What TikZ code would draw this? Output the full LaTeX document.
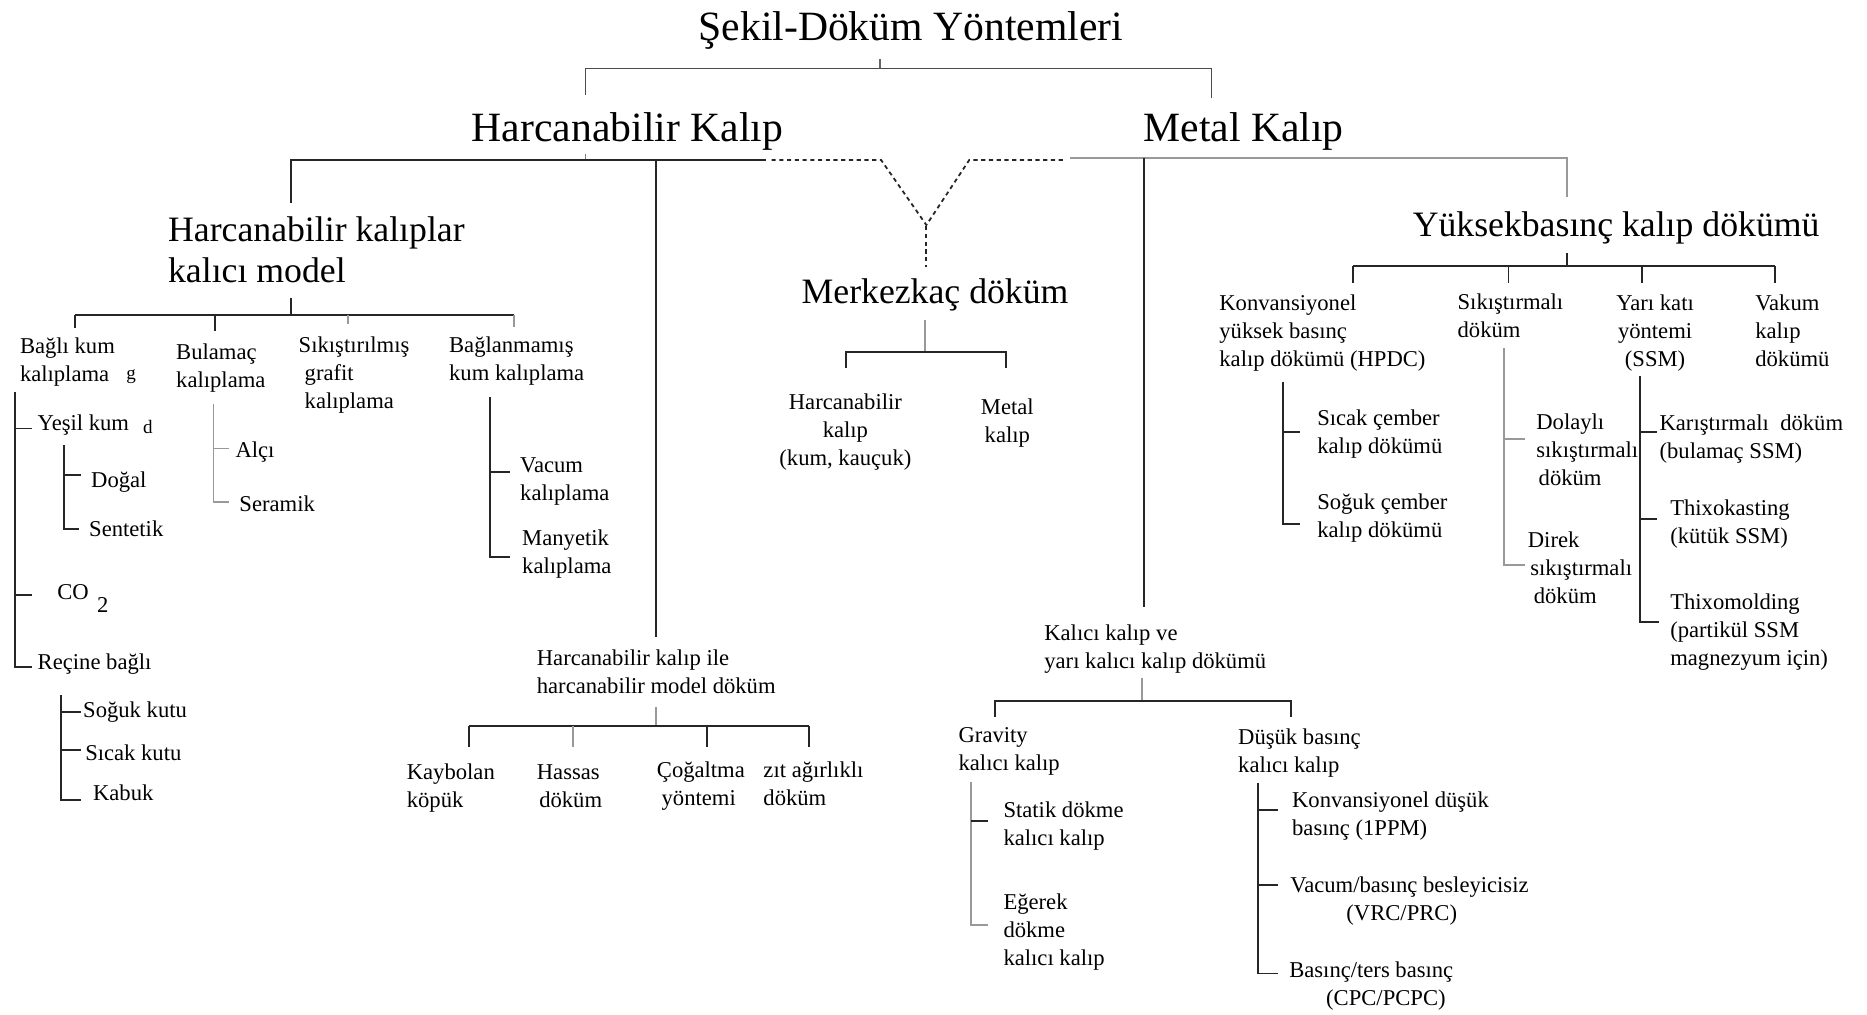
\documentclass[tikz,border=0pt]{standalone}
\usepackage{fontspec}
\setmainfont{Liberation Serif}
\newcommand\smf{\fontsize{19}{23.5}\selectfont}
\newcommand\tinyf{\fontsize{16}{19}\selectfont}
\newcommand\midf{\fontsize{30}{34}\selectfont}
\newcommand\bigf{\fontsize{35}{42}\selectfont}
\newcommand\tstr{\rule{0pt}{0.95em}}
\tikzset{
  ln/.style={line width=1.5pt, draw=black!85},
  gl/.style={line width=1.5pt, draw=black!40},
  dl/.style={line width=1.5pt, draw=black!85, dash pattern=on 3.5pt off 3pt},
  sm/.style={font=\smf, align=left, anchor=north west, inner sep=0pt},
  smc/.style={font=\smf, align=center, anchor=north, inner sep=0pt},
  big/.style={font=\bigf, anchor=base, inner sep=0pt},
  mid/.style={font=\midf, inner sep=0pt},
  tl/.style={font=\tinyf, anchor=base west, inner sep=0pt},
}
\begin{document}
\begin{tikzpicture}[x=1pt,y=-1pt]
\useasboundingbox (0,0) rectangle (1568,852);

% ---------- top level ----------
\node[big] (title) at (765,34) {Şekil-Döküm Yöntemleri};
\node[big] (harc) at (527,119) {Harcanabilir Kalıp};
\node[big] (metal) at (1044.5,119) {Metal Kalıp};

\draw[line width=1pt, draw=black!60] (739,49.8) -- (739,57.4);
\draw[line width=1.2pt, draw=black!70] (491.6,80) -- (491.6,57.4) -- (1017.4,57.4) -- (1017.4,82);

% level 2 bus
\draw[line width=0.8pt, draw=black!50] (491.3,129) -- (491.3,134.4);
\draw[ln] (244.4,170.8) -- (244.4,134.4) -- (643,134.4);
\draw[dl] (648,134.4) -- (740,134.4) -- (778,189) -- (814,134.4) -- (895,134.4);
\draw[dl] (778,190) -- (778,224);
\draw[gl] (899,133) -- (1316,133) -- (1316,165.2);
\draw[ln] (550.7,134.4) -- (550.7,534.7);
\draw[ln] (960.8,133) -- (960.8,509.5);

% ---------- Harcanabilir kalıplar kalıcı model ----------
\node[mid, align=left, anchor=north west] (hkalici) at (141,174.5) {\tstr Harcanabilir kalıplar\\kalıcı model};
\draw[ln] (244.4,250.6) -- (244.4,264.6);
\draw[ln] (63.1,264.6) -- (431.9,264.6);
\draw[ln] (63.1,264.6) -- (63.1,275.8);
\draw[ln] (180.3,264.6) -- (180.3,277.7);
\draw[gl] (292,264.6) -- (292,272);
\draw[gl] (431.9,264.6) -- (431.9,274.4);

\node[sm] (bagli) at (16.6,279) {\tstr Bağlı kum\\kalıplama};
\node[tl] (bagliG) at (106,319) {g};
\node[sm] (yesil) at (31.5,343.6) {\tstr Yeşil kum};
\node[tl] (yesilD) at (120,364) {d};
\node[sm] (dogal) at (76.4,391) {\tstr Doğal};
\node[sm] (sentetik) at (74.7,432.6) {\tstr Sentetik};
\node[sm] (co2) at (48,485) {\tstr CO\hspace{7pt}\raisebox{-11pt}{2}};
\node[sm] (recine) at (31.5,543.7) {\tstr Reçine bağlı};
\node[sm] (soguk) at (69.7,584.3) {\tstr Soğuk kutu};
\node[sm] (sicak) at (71.4,620.7) {\tstr Sıcak kutu};
\node[sm] (kabuk) at (78,654.3) {\tstr Kabuk};

\draw[ln] (12.6,329) -- (12.6,559.9) -- (26.6,559.9);
\draw[ln] (12.6,359.8) -- (26.6,359.8);
\draw[ln] (12.6,499.8) -- (26.6,499.8);
\draw[ln] (53.8,373.8) -- (53.8,444.6) -- (66.4,444.6);
\draw[ln] (53.8,399) -- (68,399);
\draw[ln] (51.5,583.7) -- (51.5,671.9) -- (68,671.9);
\draw[ln] (51.5,597.7) -- (68,597.7);
\draw[ln] (51.5,629.9) -- (68,629.9);

\node[sm] (bulamac) at (147.8,283.4) {\tstr Bulamaç\\kalıplama};
\node[sm] (alci) at (197.6,366) {\tstr Alçı};
\node[sm] (seramik) at (200.9,411.3) {\tstr Seramik};
\draw[gl] (179.3,339.3) -- (179.3,421.4) -- (192.6,421.4);
\draw[gl] (179.3,376.6) -- (192.6,376.6);

\node[sm] (sikis) at (250.7,277.8) {\tstr Sıkıştırılmış\\\hspace{5pt}grafit\\\hspace{5pt}kalıplama};

\node[sm] (baglanmamis) at (377,277.8) {\tstr Bağlanmamış\\kum kalıplama};
\node[sm] (vacum) at (436.7,378.6) {\tstr Vacum\\kalıplama};
\node[sm] (manyetik) at (438.4,440.2) {\tstr Manyetik\\kalıplama};
\draw[ln] (411.8,333.2) -- (411.8,467.6) -- (428.4,467.6);
\draw[ln] (411.8,396.2) -- (428.4,396.2);

% ---------- Harcanabilir kalıp ile harcanabilir model döküm ----------
\node[sm] (harcmodel) at (450.7,540.9) {\tstr Harcanabilir kalıp ile\\harcanabilir model döküm};
\draw[gl] (550.7,594) -- (550.7,609.7);
\draw[ln] (394.2,609.7) -- (679.7,609.7);
\draw[ln] (394.2,609.7) -- (394.2,627);
\draw[gl] (481.5,609.7) -- (481.5,627);
\draw[ln] (594,609.7) -- (594,627);
\draw[ln] (679.7,609.7) -- (679.7,627);
\node[sm] (kaybolan) at (341.5,636) {\tstr Kaybolan\\köpük};
\node[sm] (hassas) at (450.7,636) {\tstr Hassas\\\hspace{2pt}döküm};
\node[sm] (cogaltma) at (551.5,634.7) {\tstr Çoğaltma\\\hspace{4pt}yöntemi};
\node[sm] (zit) at (641,634.7) {\tstr zıt ağırlıklı\\döküm};

% ---------- Merkezkaç döküm ----------
\node[mid, anchor=base] (merkez) at (785.3,254.8) {Merkezkaç döküm};
\draw[gl] (776.9,268.7) -- (776.9,295.3);
\draw[ln] (710.3,309.3) -- (710.3,295.3) -- (844.6,295.3) -- (844.6,309.3);
\node[smc] (mharc) at (710,325.3) {\tstr Harcanabilir\\kalıp\\(kum, kauçuk)};
\node[smc] (mmetal) at (846,329.5) {\tstr Metal\\kalıp};

% ---------- Kalıcı kalıp ----------
\node[sm] (kalici) at (876.9,519.9) {\tstr Kalıcı kalıp ve\\yarı kalıcı kalıp dökümü};
\draw[gl] (959.1,569.7) -- (959.1,588.7);
\draw[ln] (835.7,601.9) -- (835.7,588.7) -- (1084.2,588.7) -- (1084.2,601.9);
\node[sm] (gravity) at (804.9,605.3) {\tstr Gravity\\kalıcı kalıp};
\node[sm] (statik) at (842.6,668.3) {\tstr Statik dökme\\kalıcı kalıp};
\node[sm] (egerek) at (842.6,745.3) {\tstr Eğerek\\dökme\\kalıcı kalıp};
\draw[gl] (815.2,656.5) -- (815.2,776.9) -- (829.9,776.9);
\draw[ln] (815.2,689.2) -- (829.9,689.2);
\node[sm] (dusuk) at (1039.7,606.7) {\tstr Düşük basınç\\kalıcı kalıp};
\node[sm] (konvd) at (1085,659.9) {\tstr Konvansiyonel düşük\\basınç (1PPM)};
\node[sm] (vacumb) at (1083.6,731.3) {\tstr Vacum/basınç besleyicisiz\\\hspace{47pt}(VRC/PRC)};
\node[sm] (basinc) at (1082.6,802.6) {\tstr Basınç/ters basınç\\\hspace{31pt}(CPC/PCPC)};
\draw[ln] (1056.2,657.9) -- (1056.2,817.5) -- (1073.3,817.5);
\draw[ln] (1056.2,680.3) -- (1073.3,680.3);
\draw[ln] (1056.2,743.3) -- (1073.3,743.3);

% ---------- Yüksekbasınç kalıp dökümü ----------
\node[mid, anchor=base] (yuksek) at (1357.3,198.8) {Yüksekbasınç kalıp dökümü};
\draw[ln] (1316,212.8) -- (1316,223.4);
\draw[ln] (1136.6,223.4) -- (1490.7,223.4);
\draw[ln] (1136.6,223.4) -- (1136.6,238);
\draw[ln] (1266.9,223.4) -- (1266.9,238);
\draw[ln] (1379,223.4) -- (1379,238);
\draw[ln] (1490.7,223.4) -- (1490.7,238);

\node[sm] (hpdc) at (1023.9,242.8) {\tstr Konvansiyonel\\yüksek basınç\\kalıp dökümü (HPDC)};
\node[sm] (sicakc) at (1106.1,339.3) {\tstr Sıcak çember\\kalıp dökümü};
\node[sm] (sogukc) at (1106.1,409.3) {\tstr Soğuk çember\\kalıp dökümü};
\draw[ln] (1077.5,320.6) -- (1077.5,440.1) -- (1091.8,440.1);
\draw[ln] (1077.5,362.5) -- (1091.8,362.5);

\node[sm] (sikismali) at (1224,241.4) {\tstr Sıkıştırmalı\\döküm};
\node[sm] (dolayli) at (1290.1,342.1) {\tstr Dolaylı\\sıkıştırmalı\\\hspace{2pt}döküm};
\node[sm] (direk) at (1283,441.5) {\tstr Direk\\\hspace{2pt}sıkıştırmalı\\\hspace{5pt}döküm};
\draw[gl] (1263.3,292.5) -- (1263.3,474.5) -- (1281.1,474.5);
\draw[gl] (1263.3,369) -- (1281.1,369);

\node[smc] (yarikati) at (1390,242.8) {\tstr Yarı katı\\yöntemi\\(SSM)};
\node[sm] (karis) at (1393.6,343.5) {\tstr Karıştırmalı\ \ döküm\\(bulamaç SSM)};
\node[sm] (thixok) at (1402.6,414.9) {\tstr Thixokasting\\(kütük SSM)};
\node[sm] (thixom) at (1402.6,493.3) {\tstr Thixomolding\\(partikül SSM\\magnezyum için)};
\draw[ln] (1377.6,315.8) -- (1377.6,522.1) -- (1393,522.1);
\draw[ln] (1377.6,362.5) -- (1391.9,362.5);
\draw[ln] (1377.6,436.2) -- (1391.9,436.2);

\node[sm] (vakum) at (1474,242.8) {\tstr Vakum\\kalıp\\dökümü};
\end{tikzpicture}
\end{document}
